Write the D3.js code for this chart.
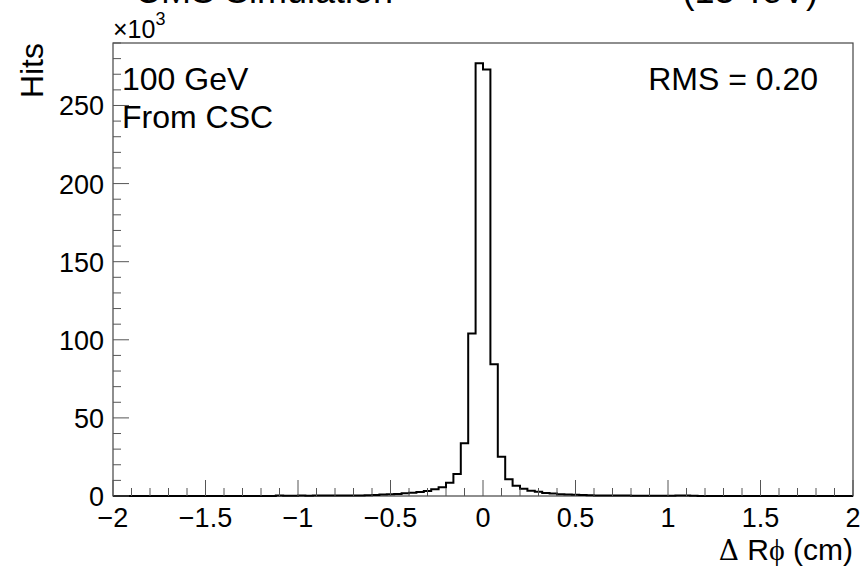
<!DOCTYPE html>
<html>
<head>
<meta charset="utf-8">
<script src="https://cdn.jsdelivr.net/npm/d3@7"></script>
<style>
  body { margin: 0; background: #fff; }
  svg { font-family: "Liberation Sans", Arial, sans-serif; }
</style>
</head>
<body>
<script>
// histogram: 100 bins from -2 to 2 (width 0.04), counts in thousands
var xMin = -2, xMax = 2, binWidth = 0.04;
var leftTail = [
  0, 0, 0, 0, 0, 0, 0, 0, 0, 0,
  0, 0, 0, 0, 0, 0, 0, 0, 0, 0,
  0, 0, 0.4,
  0.2, 0.2, 0.3, 0.2, 0.3, 0.3, 0.3, 0.3, 0.3, 0.4, 0.4, 0.5, 0.7, 0.9,
  1.1, 1.3, 1.7, 2.1, 2.6, 3.2, 4.3, 5.6, 8.5, 14.1
];                                      // bins -2.00 .. -0.16
var core = [33.8, 104, 277, 273, 84.4]; // bins -0.12 .. 0.04
var rightTail = [
  25.2, 10.7, 6.6, 4.7, 3.4, 2.7, 2.0, 1.6, 1.2, 1.0,
  0.8, 0.6, 0.5, 0.4, 0.4, 0.3, 0.3, 0.3, 0.2, 0.2,
  0.2, 0.2, 0.2, 0.2, 0.3, 0.3, 0.1, 0, 0, 0,
  0, 0, 0, 0, 0, 0, 0, 0, 0, 0,
  0, 0, 0, 0, 0, 0, 0, 0
];                                      // bins 0.08 .. 1.96
var hist = leftTail.concat(core).concat(rightTail);

var xTicks = [-2, -1.5, -1, -0.5, 0, 0.5, 1, 1.5, 2];
var xTickLabels = ["\u22122", "\u22121.5", "\u22121", "\u22120.5", "0", "0.5", "1", "1.5", "2"];
var yTicks = [0, 50, 100, 150, 200, 250];
var yMax = 290;

var W = 860, H = 567;
var pLeft = 113, pRight = 853, pTop = 43, pBottom = 496;

var svg = d3.select("body").append("svg")
    .attr("width", W)
    .attr("height", H);

var x = d3.scaleLinear().domain([xMin, xMax]).range([pLeft, pRight]);
var y = d3.scaleLinear().domain([0, yMax]).range([pBottom, pTop]);

// frame
svg.append("rect")
    .attr("x", pLeft).attr("y", pTop)
    .attr("width", pRight - pLeft).attr("height", pBottom - pTop)
    .attr("fill", "none").attr("stroke", "#444").attr("stroke-width", 1.2);

// histogram outline
var pts = [[xMin, 0]];
hist.forEach(function (v, i) { pts.push([xMin + i * binWidth, v]); });
pts.push([xMax, hist[hist.length - 1]]);
pts.push([xMax, 0]);
svg.append("path")
    .datum(pts)
    .attr("fill", "none")
    .attr("stroke", "#000")
    .attr("stroke-width", 2)
    .attr("d", d3.line()
        .x(function (d) { return x(d[0]); })
        .y(function (d) { return y(d[1]); })
        .curve(d3.curveStepAfter));

// x axis ticks (inside, pointing up)
var xMinor = d3.range(-2, 2.0001, 0.1);
svg.append("g").selectAll("line")
    .data(xMinor)
    .enter().append("line")
    .attr("x1", function (d) { return x(d); })
    .attr("x2", function (d) { return x(d); })
    .attr("y1", pBottom)
    .attr("y2", function (d) { return Math.abs(d * 2 - Math.round(d * 2)) < 1e-6 ? pBottom - 16 : pBottom - 8; })
    .attr("stroke", "#555").attr("stroke-width", 1);

svg.append("g").selectAll("text")
    .data(xTicks)
    .enter().append("text")
    .attr("x", function (d) { return x(d); })
    .attr("y", 527)
    .attr("text-anchor", "middle")
    .attr("font-size", 27)
    .text(function (d, i) { return xTickLabels[i]; });

// y axis ticks
var yMinor = d3.range(0, yMax + 0.1, 10);
svg.append("g").selectAll("line")
    .data(yMinor)
    .enter().append("line")
    .attr("x1", pLeft)
    .attr("x2", function (d) { return d % 50 === 0 ? pLeft + 16 : pLeft + 8; })
    .attr("y1", function (d) { return y(d); })
    .attr("y2", function (d) { return y(d); })
    .attr("stroke", "#555").attr("stroke-width", 1);

svg.append("g").selectAll("text")
    .data(yTicks)
    .enter().append("text")
    .attr("x", 104)
    .attr("y", function (d) { return y(d) + 10; })
    .attr("text-anchor", "end")
    .attr("font-size", 27)
    .text(function (d) { return d; });

// exponent
var ex = svg.append("text").attr("x", pLeft).attr("y", 38).attr("font-size", 25);
ex.append("tspan").text("\u00d710");
ex.append("tspan").attr("dy", -13).attr("font-size", 18).text("3");

// axis titles
svg.append("text")
    .attr("transform", "translate(43," + pTop + ") rotate(-90)")
    .attr("text-anchor", "end")
    .attr("font-size", 32)
    .text("Hits");

var xt = svg.append("text")
    .attr("x", pRight).attr("y", 560)
    .attr("text-anchor", "end")
    .attr("font-size", 30);
xt.append("tspan").attr("font-family", "'DejaVu Serif', 'Liberation Serif', serif").attr("font-size", 28).text("\u0394");
xt.append("tspan").text(" R");
xt.append("tspan").attr("font-family", "'Liberation Serif', serif").text("\u03d5");
xt.append("tspan").text(" (cm)");

// top labels (cut off by page top)
svg.append("text")
    .attr("x", 135).attr("y", 3)
    .attr("font-size", 36)
    .text("CMS Simulation");
svg.append("text")
    .attr("x", 818).attr("y", 3)
    .attr("text-anchor", "end")
    .attr("font-size", 36)
    .text("(13 TeV)");

// annotations
svg.append("text").attr("x", 122).attr("y", 90).attr("font-size", 32).text("100 GeV");
svg.append("text").attr("x", 122).attr("y", 128).attr("font-size", 32).text("From CSC");
svg.append("text").attr("x", 818).attr("y", 90).attr("text-anchor", "end").attr("font-size", 32).text("RMS = 0.20");
</script>
</body>
</html>
